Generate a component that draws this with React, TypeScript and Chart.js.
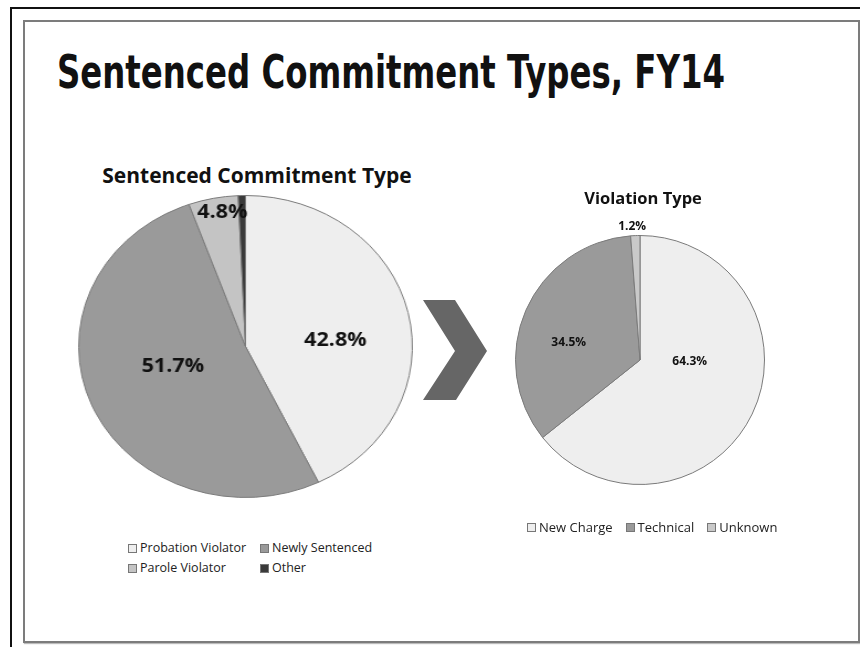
import React, { useEffect, useRef } from "react";
import { Chart, registerables } from "chart.js";
Chart.register(...registerables);

const pageTitle = "Sentenced Commitment Types, FY14";

const commitmentTitle = "Sentenced Commitment Type";
const commitmentLabels = ["Probation Violator", "Newly Sentenced", "Parole Violator", "Other"];
const commitmentValues = [42.8, 51.7, 4.8, 0.7];
const commitmentColors = ["#eeeeee", "#9a9a9a", "#c4c4c4", "#3a3a3a"];

const violationTitle = "Violation Type";
const violationLabels = ["New Charge", "Technical", "Unknown"];
const violationValues = [64.3, 34.5, 1.2];
const violationColors = ["#eeeeee", "#9a9a9a", "#c9c9c9"];

type LabelStyle = { show: boolean[]; frac: number[]; offsetDeg: number[]; font: string };

function makeLabelPlugin(style: LabelStyle) {
  return {
    id: "sliceLabels",
    afterDatasetsDraw(chart: any) {
      const ctx = chart.ctx;
      const meta = chart.getDatasetMeta(0);
      const values = chart.data.datasets[0].data as number[];
      ctx.save();
      ctx.font = style.font;
      ctx.fillStyle = "#111";
      ctx.textAlign = "center";
      ctx.textBaseline = "middle";
      meta.data.forEach((arc: any, i: number) => {
        if (!style.show[i]) return;
        const p = arc.getProps(["x", "y", "startAngle", "endAngle", "outerRadius"], true);
        const mid = (p.startAngle + p.endAngle) / 2 + (style.offsetDeg[i] * Math.PI) / 180;
        const r = p.outerRadius * style.frac[i];
        ctx.fillText(values[i].toFixed(1) + "%", p.x + Math.cos(mid) * r, p.y + Math.sin(mid) * r);
      });
      ctx.restore();
    },
  };
}

function PieCanvas(props: {
  labels: string[];
  values: number[];
  colors: string[];
  padding: any;
  labelStyle: LabelStyle;
  left: number;
  top: number;
  width: number;
  height: number;
  stretchX?: number;
}) {
  const ref = useRef<HTMLCanvasElement | null>(null);
  useEffect(() => {
    if (!ref.current) return;
    const chart = new Chart(ref.current, {
      type: "pie",
      data: {
        labels: props.labels,
        datasets: [
          {
            data: props.values,
            backgroundColor: props.colors,
            borderColor: "#7a7a7a",
            borderWidth: 1,
          },
        ],
      },
      options: {
        animation: false,
        responsive: false,
        maintainAspectRatio: false,
        layout: { padding: props.padding },
        plugins: {
          legend: { display: false },
          tooltip: { enabled: false },
          title: { display: false },
        },
      },
      plugins: [makeLabelPlugin(props.labelStyle)],
    });
    return () => chart.destroy();
  }, []);
  const sx = props.stretchX || 1;
  return (
    <canvas
      ref={ref}
      width={props.width}
      height={props.height}
      style={{
        position: "absolute",
        left: props.left,
        top: props.top,
        width: props.width,
        height: props.height,
        transform: `scaleX(${sx})`,
        transformOrigin: "0 0",
      }}
    />
  );
}

function Legend(props: {
  labels: string[];
  colors: string[];
  columns: number;
  colWidth: number;
  style: React.CSSProperties;
}) {
  return (
    <div
      style={{
        position: "absolute",
        display: "grid",
        gridTemplateColumns: `repeat(${props.columns}, ${props.colWidth}px)`,
        rowGap: 4,
        fontFamily: "'Open Sans', sans-serif",
        fontSize: 12.5,
        color: "#222",
        ...props.style,
      }}
    >
      {props.labels.map((l, i) => (
        <div key={l} style={{ display: "flex", alignItems: "center", whiteSpace: "nowrap", lineHeight: "16px" }}>
          <span
            style={{
              display: "inline-block",
              width: 7,
              height: 7,
              background: props.colors[i],
              border: "1px solid #777",
              marginRight: 3,
            }}
          />
          {l}
        </div>
      ))}
    </div>
  );
}

export default function App() {
  return (
    <div
      style={{
        position: "absolute",
        left: 0,
        top: 0,
        width: 860,
        height: 647,
        background: "#fff",
        overflow: "hidden",
      }}
    >
      {/* outer frame lines */}
      <div style={{ position: "absolute", left: 10, top: 7, width: 1.5, height: 640, background: "#111" }} />
      <div style={{ position: "absolute", left: 10, top: 7, width: 850, height: 1.5, background: "#111" }} />
      {/* inner slide box */}
      <div
        style={{
          position: "absolute",
          left: 23,
          top: 20,
          width: 833,
          height: 619,
          border: "2px solid #7c7c7c",
          boxShadow: "1px 1px 1px #bbb",
        }}
      />
      {/* page title */}
      <svg style={{ position: "absolute", left: 0, top: 0 }} width={860} height={120}>
        <text
          x={57}
          y={88}
          textLength={668}
          lengthAdjust="spacingAndGlyphs"
          style={{ fontFamily: "'DejaVu Sans', sans-serif", fontWeight: 700, fontSize: 46 }}
          fill="#111"
        >
          {pageTitle}
        </text>
      </svg>

      {/* left chart */}
      <div
        style={{
          position: "absolute",
          left: 82,
          top: 161,
          width: 350,
          textAlign: "center",
          fontFamily: "'Open Sans', sans-serif",
          fontWeight: 700,
          fontSize: 21,
          color: "#111",
          whiteSpace: "nowrap",
        }}
      >
        {commitmentTitle}
      </div>
      <PieCanvas
        labels={commitmentLabels}
        values={commitmentValues}
        colors={commitmentColors}
        padding={20}
        labelStyle={{
          show: [true, true, true, false],
          frac: [0.54, 0.455, 0.9, 0],
          offsetDeg: [8.8, 6, 2.3, 0],
          font: "bold 19.5px 'Open Sans', sans-serif",
        }}
        left={56}
        top={175}
        width={343}
        height={343}
        stretchX={1.105}
      />
      <Legend
        labels={commitmentLabels}
        colors={commitmentColors}
        columns={2}
        colWidth={132}
        style={{ left: 128, top: 540 }}
      />

      {/* chevron */}
      <svg style={{ position: "absolute", left: 0, top: 0 }} width={860} height={647}>
        <polygon points="423,300 455,300 487,351 456,400 423,400 455,351" fill="#666666" />
      </svg>

      {/* right chart */}
      <div
        style={{
          position: "absolute",
          left: 543,
          top: 186,
          width: 200,
          textAlign: "center",
          fontFamily: "'Open Sans', sans-serif",
          fontWeight: 700,
          fontSize: 16.5,
          color: "#111",
          whiteSpace: "nowrap",
        }}
      >
        {violationTitle}
      </div>
      <PieCanvas
        labels={violationLabels}
        values={violationValues}
        colors={violationColors}
        padding={{ left: 15, right: 15, top: 35, bottom: 35 }}
        labelStyle={{
          show: [true, true, true],
          frac: [0.4, 0.59, 1.07],
          offsetDeg: [-23.4, -9.6, -1.2],
          font: "bold 12px 'Open Sans', sans-serif",
        }}
        left={500}
        top={200}
        width={280}
        height={320}
      />
      <Legend
        labels={violationLabels}
        colors={violationColors}
        columns={3}
        colWidth={0}
        style={{
          left: 527,
          top: 519,
          display: "flex",
          gap: 13,
          fontSize: 13,
        }}
      />
    </div>
  );
}
